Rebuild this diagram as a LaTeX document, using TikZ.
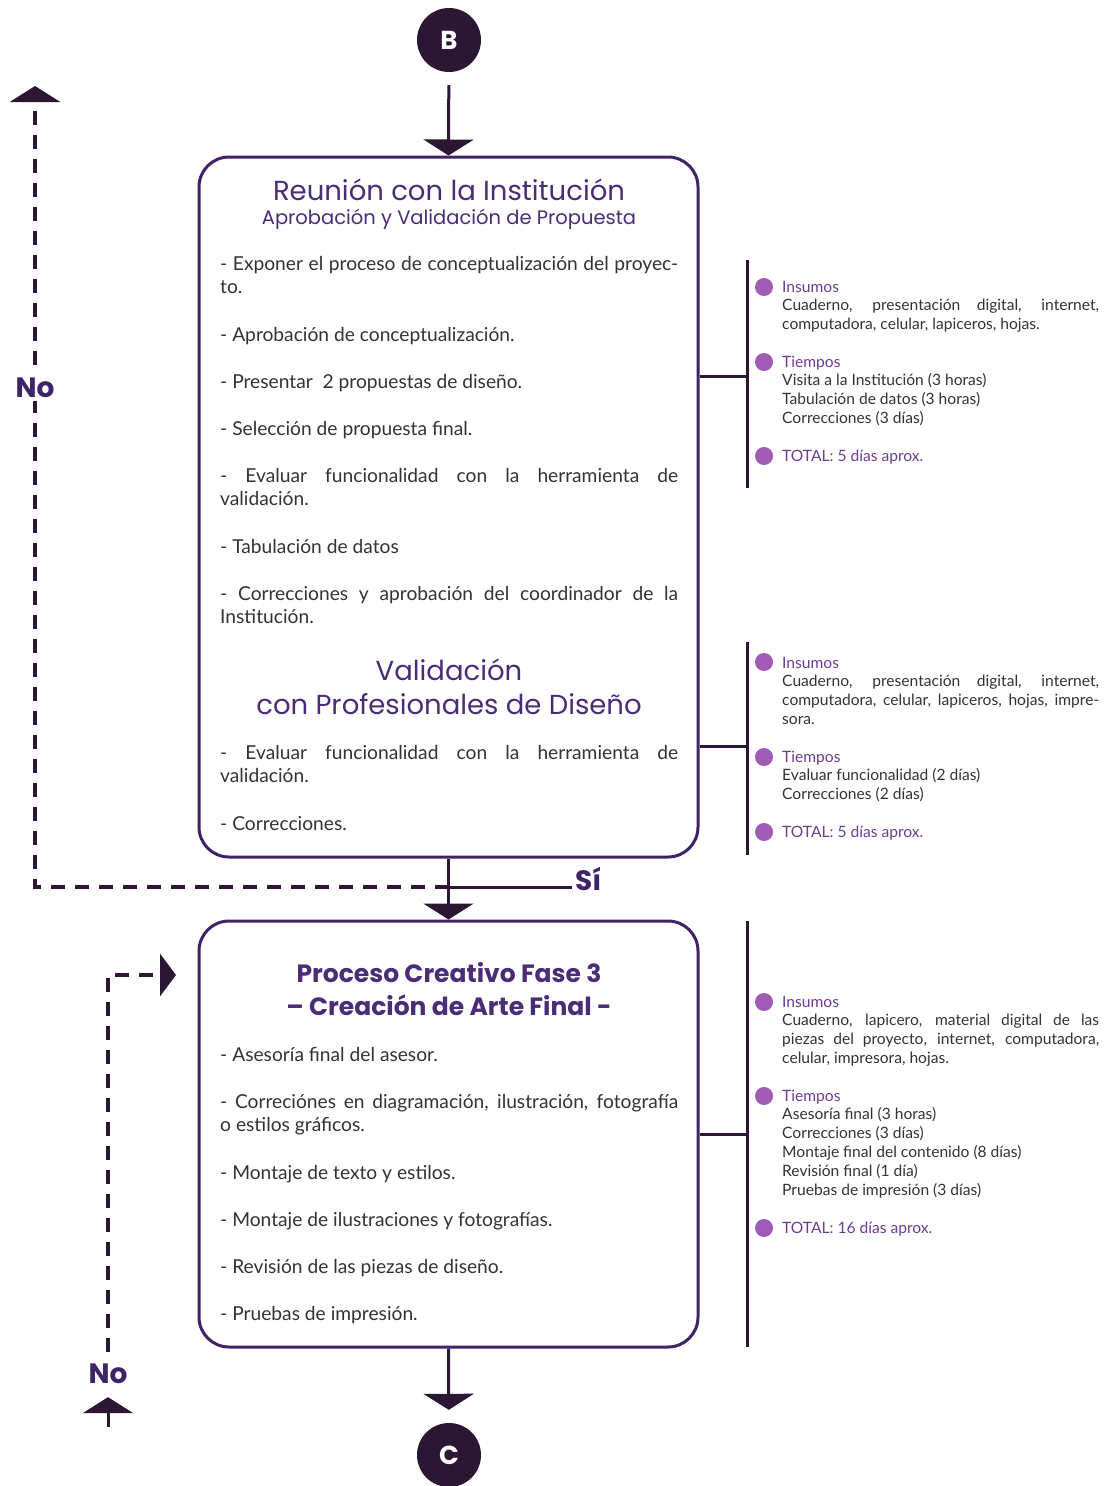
\documentclass[tikz,border=0pt]{standalone}
\usepackage{fontspec}
\setmainfont{Lato}
\newfontfamily\titlefont{Poppins}
\usetikzlibrary{arrows.meta}
\definecolor{plum}{HTML}{2B1633}
\definecolor{boxpurple}{HTML}{3F2366}
\definecolor{titlepurple}{HTML}{4A2C77}
\definecolor{bulletpurple}{HTML}{A05BB5}
\definecolor{labelpurple}{HTML}{6B3D8F}
\definecolor{textgray}{HTML}{333333}
\hyphenpenalty=10000
\tolerance=10000

\tikzset{
  etapa/.style={draw=boxpurple, line width=3pt, rounded corners=30pt, fill=white},
  flecha/.style={plum, line width=3pt, -{Triangle[width=50pt,length=16pt]}},
  retorno/.style={plum, line width=4pt, dash pattern=on 14pt off 10pt},
  llave/.style={plum, line width=3pt},
  conector/.style={circle, fill=plum, text=white, minimum size=64pt, inner sep=0pt,
    font=\titlefont\bfseries\fontsize{26}{26}\selectfont},
  titulo/.style={anchor=base, text=titlepurple, inner sep=0pt, font=\titlefont\fontsize{27.5}{30}\selectfont},
  item/.style={anchor=base west, text width=458pt, align=justify, inner sep=0pt,
    text=textgray, font=\fontsize{19.2}{23.5}\selectfont},
  punto/.style={circle, fill=bulletpurple, minimum size=18pt, inner sep=0pt},
  dato/.style={anchor=base west, text width=317pt, align=justify, inner sep=0pt,
    text=textgray, font=\fontsize{15.6}{18.8}\selectfont},
  respuesta/.style={text=boxpurple, inner sep=3pt, font=\titlefont\bfseries\fontsize{28}{28}\selectfont}
}
\newcommand{\rotulo}[1]{{\color{labelpurple}#1}}

\begin{document}
\begin{tikzpicture}[x=1pt,y=-1pt]
\useasboundingbox (0,0) rectangle (1105,1486);

% etapas
\node[etapa, minimum width=499pt, minimum height=700pt] (reunion) at (448.5,507) {};
\node[etapa, minimum width=499pt, minimum height=426pt] (fase3) at (448.5,1134) {};
\node[conector] (b) at (449,40) {B};
\node[conector] (c) at (449,1455) {C};

\draw[flecha, shorten <=13pt] (b) -- (reunion.north);
\draw[flecha] (reunion.south) -- (fase3.north);
\draw[flecha, shorten >=13pt] (fase3.south) -- (c);

% si / no
\coordinate (cruce) at (449,887);
\coordinate (arriba) at (35,86);
\node[respuesta, anchor=west] (si) at (572,879) {Sí};
\draw[llave] (cruce) -- (si.west |- cruce);
\draw[retorno, -{Triangle[width=50pt,length=16pt]}] (cruce) -| (arriba);
\node[respuesta, fill=white] (no1) at (35,388) {No};

\coordinate (desde) at (108,1352);
\coordinate (hacia) at (176,975);
\coordinate (bajo) at (108,1427);
\draw[retorno, -{Triangle[width=42pt,length=16pt]}] (desde) |- (hacia);
\node[respuesta] (no2) at (108,1374) {No};
\draw[flecha, shorten >=10pt] (bajo) -- (no2.south);

% textos de la primera etapa
\node[titulo] (t1) at (449,200) {Reunión con la Institución};
\node[titulo, font=\titlefont\fontsize{19.5}{22}\selectfont] (t2) at (449,224) {Aprobación y Validación de Propuesta};
\node[item] (a1) at (220,270) {- Exponer el proceso de conceptualización del proyec-\linebreak to.};
\node[item] (a2) at (220,341) {- Aprobación de conceptualización.};
\node[item] (a3) at (220,388) {- Presentar~ 2 propuestas de diseño.};
\node[item] (a4) at (220,435) {- Selección de propuesta final.};
\node[item] (a5) at (220,482) {- Evaluar funcionalidad con la herramienta de\linebreak validación.};
\node[item] (a6) at (220,553) {- Tabulación de datos};
\node[item] (a7) at (220,600) {- Correcciones y aprobación del coordinador de la\linebreak Institución.};
\node[titulo] (t3) at (449,680) {Validación};
\node[titulo] (t4) at (449,714) {con Profesionales de Diseño};
\node[item] (a8) at (220,759) {- Evaluar funcionalidad con la herramienta de\linebreak validación.};
\node[item] (a9) at (220,830) {- Correcciones.};

% textos de la fase 3
\node[titulo, font=\titlefont\bfseries\fontsize{25}{28}\selectfont] (t5) at (449,982) {Proceso Creativo Fase 3};
\node[titulo, font=\titlefont\bfseries\fontsize{25}{28}\selectfont] (t6) at (449,1015) {– Creación de Arte Final -};
\node[item] (f1) at (220,1061) {- Asesoría final del asesor.};
\node[item] (f2) at (220,1108) {- Correciónes en diagramación, ilustración, fotografía\linebreak o estilos gráficos.};
\node[item] (f3) at (220,1179) {- Montaje de texto y estilos.};
\node[item] (f4) at (220,1226) {- Montaje de ilustraciones y fotografías.};
\node[item] (f5) at (220,1273) {- Revisión de las piezas de diseño.};
\node[item] (f6) at (220,1320) {- Pruebas de impresión.};

% llaves de la derecha
\draw[llave] (747,260) -- (747,488);
\draw[llave] (reunion.east |- 0,376) -- (747,376);
\draw[llave] (747,642) -- (747,855);
\draw[llave] (reunion.east |- 0,746) -- (747,746);
\draw[llave] (747,921) -- (747,1347);
\draw[llave] (fase3.east) -- (747,1134);

\node[punto] (p1) at (764,287) {};
\node[punto] (p2) at (764,362) {};
\node[punto] (p3) at (764,456) {};
\node[dato] (d1) at (782,292) {\rotulo{Insumos}\\ Cuaderno, presentación digital, internet,\linebreak computadora, celular, lapiceros, hojas.};
\node[dato] (d2) at (782,367) {\rotulo{Tiempos}\\ Visita a la Institución (3 horas)\\ Tabulación de datos (3 horas)\\ Correcciones (3 días)};
\node[dato] (d3) at (782,461) {\rotulo{TOTAL: 5 días aprox.}};

\node[punto] (p4) at (764,662) {};
\node[punto] (p5) at (764,757) {};
\node[punto] (p6) at (764,832) {};
\node[dato] (d4) at (782,668) {\rotulo{Insumos}\\ Cuaderno, presentación digital, internet,\linebreak computadora, celular, lapiceros, hojas, impre-\linebreak sora.};
\node[dato] (d5) at (782,762) {\rotulo{Tiempos}\\ Evaluar funcionalidad (2 días)\\ Correcciones (2 días)};
\node[dato] (d6) at (782,837) {\rotulo{TOTAL: 5 días aprox.}};

\node[punto] (p7) at (764,1002) {};
\node[punto] (p8) at (764,1096) {};
\node[punto] (p9) at (764,1228) {};
\node[dato] (d7) at (782,1007) {\rotulo{Insumos}\\ Cuaderno, lapicero, material digital de las\linebreak piezas del proyecto, internet, computadora,\linebreak celular, impresora, hojas.};
\node[dato] (d8) at (782,1101) {\rotulo{Tiempos}\\ Asesoría final (3 horas)\\ Correcciones (3 días)\\ Montaje final del contenido (8 días)\\ Revisión final (1 día)\\ Pruebas de impresión (3 días)};
\node[dato] (d9) at (782,1233) {\rotulo{TOTAL: 16 días aprox.}};
\end{tikzpicture}
\end{document}
